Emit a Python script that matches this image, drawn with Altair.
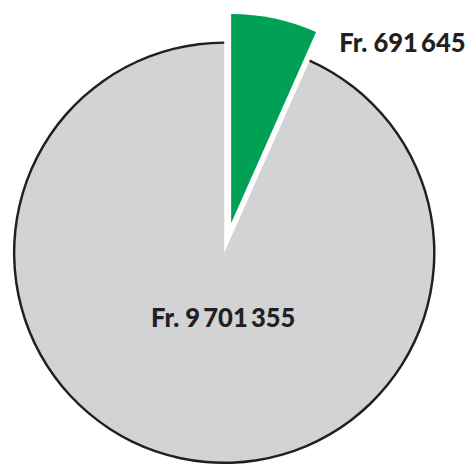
import altair as alt
import pandas as pd

keys = ["green", "grey"]
values = [691645, 9701355]
labels = ["Fr. 691\u2009645", "Fr. 9\u2009701\u2009355"]
order = [0, 1]

df = pd.DataFrame({"key": keys, "value": values, "label": labels, "order": order})

CX, CY = 220, 245
R = 213
GREEN = "#00A155"
GREY = "#D1D3D4"
INK = "#231F20"

base = alt.Chart(df).encode(
    theta=alt.Theta("value:Q", stack=True),
    order=alt.Order("order:Q"),
    x=alt.value(CX),
    y=alt.value(CY),
)

is_grey = "datum.key == 'grey'"
is_green = "datum.key == 'green'"

grey_fill = base.mark_arc(outerRadius=R, fill=GREY, strokeWidth=0).encode(
    fillOpacity=alt.condition(is_grey, alt.value(1), alt.value(0))
)
grey_edge = base.mark_arc(innerRadius=R - 0.5, outerRadius=R + 2, fill=INK, strokeWidth=0).encode(
    fillOpacity=alt.condition(is_grey, alt.value(1), alt.value(0))
)
green = base.mark_arc(outerRadius=R, fill=GREEN, strokeWidth=0, xOffset=7, yOffset=-30).encode(
    fillOpacity=alt.condition(is_green, alt.value(1), alt.value(0))
)

txt_green = alt.Chart(df).transform_filter(is_green).mark_text(
    font="Lato", fontWeight=900, fontSize=26, color=INK, align="left", baseline="alphabetic"
).encode(text="label:N", x=alt.value(337), y=alt.value(41))

txt_grey = alt.Chart(df).transform_filter(is_grey).mark_text(
    font="Lato", fontWeight=900, fontSize=26, color=INK, align="center", baseline="alphabetic"
).encode(text="label:N", x=alt.value(219), y=alt.value(321))

chart = alt.layer(grey_fill, grey_edge, green, txt_green, txt_grey).properties(
    width=465, height=456, autosize="none", padding=0
).configure_view(stroke=None)

chart.save("out.html", embed_options={"renderer": "svg", "actions": False})
